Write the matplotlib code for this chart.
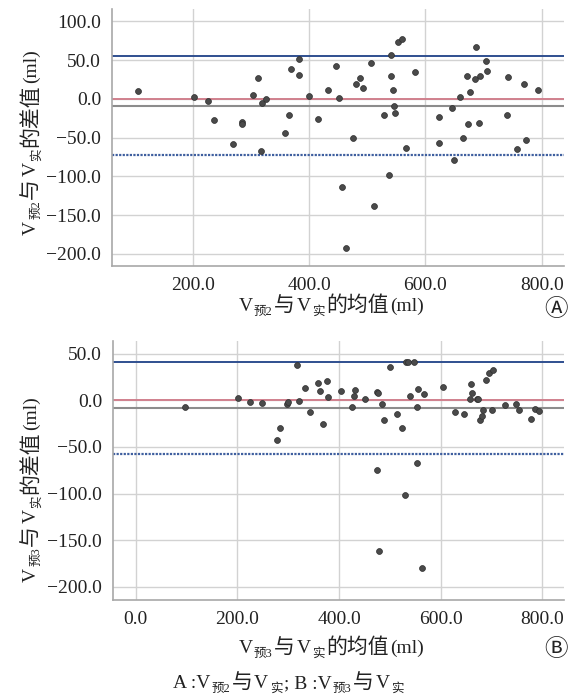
import numpy as np
import matplotlib
matplotlib.use("Agg")
import matplotlib.pyplot as plt
from matplotlib.transforms import IdentityTransform

FONTS = ['Liberation Serif', 'Noto Sans CJK SC', 'DejaVu Sans']
plt.rcParams['font.family'] = FONTS

# ------------------------------------------------------------
# data (A: V预2 vs V实, B: V预3 vs V实)
# ------------------------------------------------------------
a_mean = [104.6, 202, 225, 236.5, 268.7, 284, 284, 302.5, 311.7, 317.4,
          318, 326, 358, 366, 369, 382, 382, 400, 415, 432.7,
          446, 451, 455.7, 463, 474.7, 479.8, 486.7, 493, 506, 510.8,
          528.6, 537, 540.6, 541, 544, 546, 548, 552, 559.5, 567,
          581.4, 623.8, 623.8, 645, 648.7, 659, 664, 672, 673.7, 677,
          686.4, 685.8, 691.5, 694.4, 704.7, 705.4, 740.9, 742.5, 757.5, 769,
          773, 794]
a_diff = [10.3, 3.0, -2.2, -26.7, -58.6, -29.3, -31.9, 4.7, 26.7, -66.8,
          -4.7, -0.4, -44.4, -20.7, 39.2, 51.7, 31.0, 3.9, -26.3, 12.1,
          42.3, 1.3, -113.8, -193.0, -50.4, 19.0, 27.6, 14.2, 45.7, -138.8,
          -20.3, -97.9, 56.9, 30.1, 11.6, -9.1, -18.1, 72.8, 77.6, -63.0,
          34.5, -22.9, -57.3, -12.0, -79.3, 3.0, -50.8, 30.1, -32.3, 9.5,
          66.4, 25.4, -31.5, 29.7, 48.3, 36.2, -21.1, 28.4, -64.7, 19.4,
          -52.6, 11.2]
a_bias, a_upper, a_lower = -8.6, 55.2, -72.4

b_mean = [96.3, 202, 225.5, 248.5, 277.3, 283.2, 298.3, 299.6, 317.3, 320.6,
          333, 343.5, 359.3, 361.9, 367.9, 377, 378.3, 403.2, 424.8, 429.4,
          430.7, 451, 474.6, 476, 474.6, 477.9, 484, 489.1, 500.9, 513.4,
          523.3, 529.8, 531.7, 535, 540.3, 546.8, 552.7, 552.7, 556, 563.2,
          567.2, 605.2, 628.1, 645.2, 657, 659, 661, 672, 674, 678,
          680.6, 682.6, 689.8, 694.4, 701, 703, 725.9, 748.8, 753.4, 778.4,
          785, 792.8]
b_diff = [-7.1, 2.9, -2.1, -3.2, -42.1, -30.0, -3.6, -1.8, 37.5, -0.7,
          12.9, -12.9, 18.6, 10.0, -25.0, 21.1, 3.2, 10.0, -7.5, 4.3,
          11.1, 1.1, 9.3, 7.5, -74.3, -161.0, -3.6, -21.4, 35.7, -14.3,
          -30.0, -101.4, 40.7, 40.7, 4.3, 41.1, -7.1, -66.8, 12.1, -179.6,
          6.4, 14.3, -12.9, -14.6, 1.1, 17.1, 8.2, 1.4, 1.4, -20.7,
          -16.4, -10.0, 21.8, 29.3, -10.7, 32.1, -5.4, -3.9, -10.4, -20.0,
          -9.6, -11.1]
b_bias, b_upper, b_lower = -7.9, 41.4, -57.2

a_xticks = [200, 400, 600, 800]
a_yticks = [-200, -150, -100, -50, 0, 50, 100]
b_xticks = [0, 200, 400, 600, 800]
b_yticks = [-200, -150, -100, -50, 0, 50]


def fmt(v):
    return f"{v:.1f}".replace('-', '\u2212')


def style_axes(ax, xticks, yticks, xlim, ylim):
    ax.set_xlim(*xlim)
    ax.set_ylim(*ylim)
    ax.set_xticks(xticks)
    ax.set_xticklabels([fmt(v) for v in xticks])
    ax.set_yticks(yticks)
    ax.set_yticklabels([fmt(v) for v in yticks])
    ax.tick_params(axis='both', length=0, labelsize=14, colors='#222222')
    ax.tick_params(axis='x', pad=8)
    ax.tick_params(axis='y', pad=8)
    ax.grid(True, color='#d2d2d2', lw=1.0)
    ax.set_axisbelow(True)
    for side in ['top', 'right']:
        ax.spines[side].set_visible(False)
    for side in ['left', 'bottom']:
        ax.spines[side].set_color('#a8a8a8')
        ax.spines[side].set_linewidth(1.2)


def draw_panel(ax, mean, diff, bias, upper, lower):
    ax.axhline(upper, color='#2f4f8f', lw=1.4, zorder=2)
    ax.axhline(0, color='#d0808e', lw=1.4, zorder=2)
    ax.axhline(bias, color='#8c8c8c', lw=1.5, zorder=2)
    ax.axhline(lower, color='#3f5f9f', lw=1.6, ls=(0, (1, 0.6)), zorder=2)
    ax.scatter(mean, diff, s=18, color='#4a4a4a', edgecolors='#2e2e2e',
               linewidths=0.5, zorder=3)


def rich_text(fig, x, y, pieces, rotation=0):
    # pieces: (text, fontsize, baseline shift in px); x, y = centre of baseline in pixels
    r = fig.canvas.get_renderer()
    widths = []
    for s, size, dy in pieces:
        t = fig.text(0, 0, s, fontsize=size, family=FONTS, transform=IdentityTransform())
        widths.append(t.get_window_extent(r).width + 1.5)
        t.remove()
    pos = -sum(widths) / 2
    for (s, size, dy), w in zip(pieces, widths):
        if rotation == 0:
            px, py = x + pos, y + dy
        else:
            px, py = x - dy, y + pos
        fig.text(px, py, s, fontsize=size, family=FONTS, rotation=rotation,
                 rotation_mode='anchor', ha='left', va='baseline',
                 color='#222222', transform=IdentityTransform())
        pos += w


def axis_label(v, word):
    return [('V', 14, 0), ('预' + v, 9, -4), ('与', 15, 0), ('V', 14, 0),
            ('实', 9, -4), (word, 15, 0), ('(ml)', 14, 0)]


fig = plt.figure(figsize=(5.74, 6.99), dpi=100)
H = 699

ax1 = fig.add_axes([112.3 / 574, 1 - 266.3 / H, 452 / 574, 257.3 / H])
draw_panel(ax1, a_mean, a_diff, a_bias, a_upper, a_lower)
style_axes(ax1, a_xticks, a_yticks, (61, 839), (-216, 116))

ax2 = fig.add_axes([113.3 / 574, 1 - 600 / H, 451 / 574, 259 / H])
draw_panel(ax2, b_mean, b_diff, b_bias, b_upper, b_lower)
style_axes(ax2, b_xticks, b_yticks, (-44, 843), (-214, 63.5))

fig.canvas.draw()

rich_text(fig, 332, H - 311, axis_label('2', '的均值'))
rich_text(fig, 332, H - 653, axis_label('3', '的均值'))
rich_text(fig, 36, H - 141, axis_label('2', '的差值'), rotation=90)
rich_text(fig, 36, H - 488, axis_label('3', '的差值'), rotation=90)
rich_text(fig, 289, H - 688, [('A :V', 14, 0), ('预2', 9, -4), ('与', 15, 0),
                              ('V', 14, 0), ('实', 9, -4), ('; B :V', 14, 0),
                              ('预3', 9, -4), ('与', 15, 0), ('V', 14, 0),
                              ('实', 9, -4)])

CIRC = ['Noto Sans CJK SC', 'DejaVu Sans']
fig.text(556 / 574, 1 - 309 / H, '\u24b6', fontsize=17, ha='center', va='center',
         family=CIRC, color='#222222')
fig.text(556 / 574, 1 - 650 / H, '\u24b7', fontsize=17, ha='center', va='center',
         family=CIRC, color='#222222')

fig.savefig('out.png', dpi=100)
